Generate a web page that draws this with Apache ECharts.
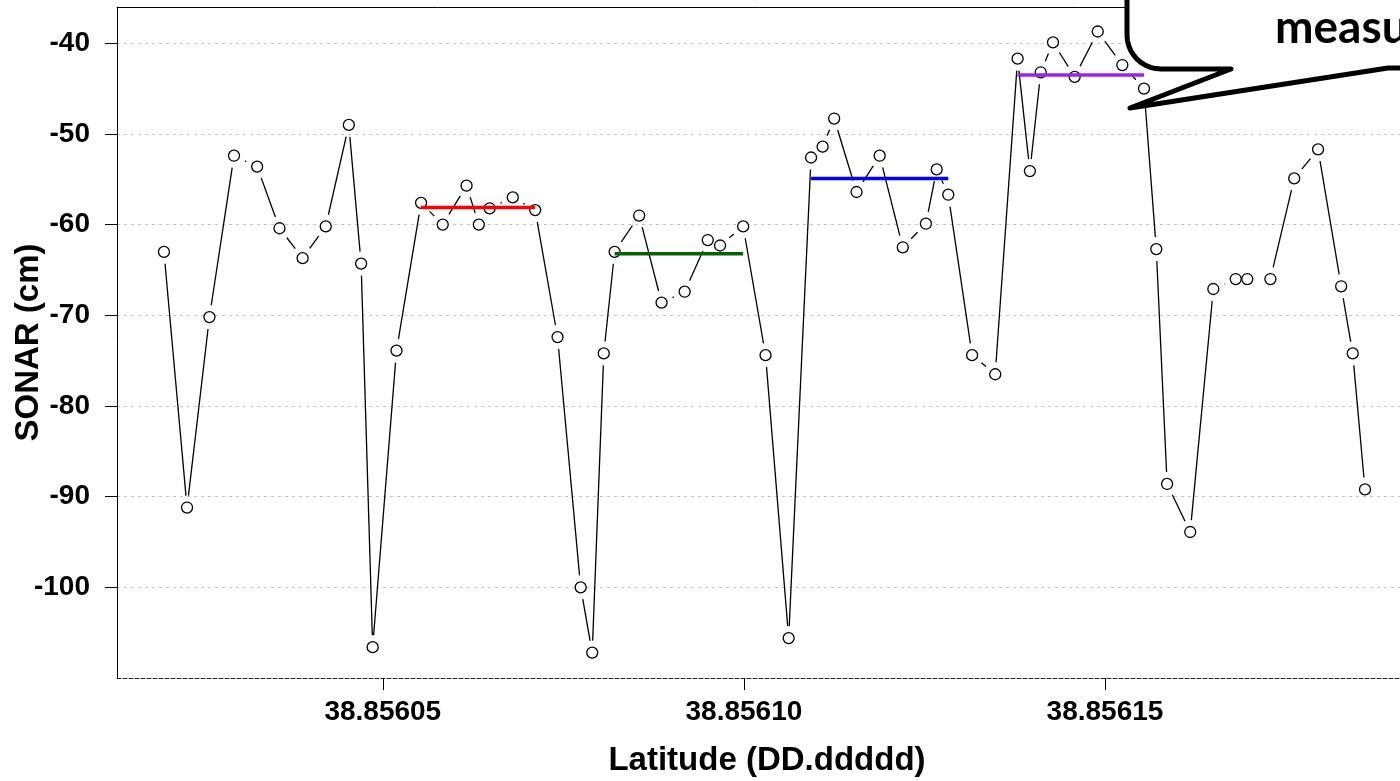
<!DOCTYPE html>
<html>
<head>
<meta charset="utf-8">
<script src="https://cdn.jsdelivr.net/npm/echarts@6.0.0/dist/echarts.min.js"></script>
<style>
html,body{margin:0;padding:0;background:#fff;}
#chart{width:1400px;height:781px;}
</style>
</head>
<body>
<div id="chart"></div>
<script>
// Latitude (DD.ddddd) of each sonar reading
const latitude = [
  38.8560197, 38.8560229, 38.8560260, 38.8560294, 38.8560326, 38.8560357, 38.8560389, 38.8560421,
  38.8560453, 38.8560470, 38.8560486, 38.8560519, 38.8560553, 38.8560583, 38.8560616, 38.8560633,
  38.8560648, 38.8560680, 38.8560711, 38.8560742, 38.8560774, 38.8560790, 38.8560806, 38.8560821,
  38.8560855, 38.8560886, 38.8560918, 38.8560950, 38.8560967, 38.8560999, 38.8561030, 38.8561062,
  38.8561093, 38.8561109, 38.8561125, 38.8561156, 38.8561188, 38.8561220, 38.8561252, 38.8561267,
  38.8561283, 38.8561316, 38.8561348, 38.8561379, 38.8561396, 38.8561411, 38.8561428, 38.8561458,
  38.8561490, 38.8561524, 38.8561554, 38.8561571, 38.8561586, 38.8561618, 38.8561650, 38.8561681,
  38.8561697, 38.8561729, 38.8561762, 38.8561795, 38.8561827, 38.8561843, 38.8561860
];
// SONAR depth (cm)
const sonar = [
  -63.0, -91.2, -70.2, -52.4, -53.6, -60.4, -63.7, -60.2,
  -49.0, -64.3, -106.6, -73.9, -57.6, -60.0, -55.7, -60.0,
  -58.2, -57.0, -58.4, -72.4, -100.0, -107.2, -74.2, -63.0,
  -59.0, -68.6, -67.4, -61.7, -62.3, -60.2, -74.4, -105.6,
  -52.6, -51.4, -48.3, -56.4, -52.4, -62.5, -59.9, -53.9,
  -56.7, -74.4, -76.5, -41.7, -54.1, -43.2, -39.9, -43.7,
  -38.7, -42.4, -45.0, -62.7, -88.6, -93.9, -67.1, -66.0,
  -66.0, -66.0, -54.9, -51.7, -66.8, -74.2, -89.2
];
// Mean segments
const meanStart = [38.8560553, 38.8560821, 38.8561093, 38.8561379];
const meanEnd   = [38.8560711, 38.8560999, 38.8561283, 38.8561554];
const meanValue = [-58.1, -63.2, -54.9, -43.5];
const meanColor = ['#ff0000', '#006400', '#0000ff', '#a020f0'];
// Tick labels
const xTicks = [38.85605, 38.85610, 38.85615];
const yTicks = [-100, -90, -80, -70, -60, -50, -40];
const calloutText = 'measurement';

const FONT = "'Liberation Sans', Arial, sans-serif";
const GAP = 12;

const segData = [];
for (let i = 0; i < latitude.length - 1; i++) {
  segData.push([latitude[i], sonar[i], latitude[i + 1], sonar[i + 1]]);
}

const series = [
  {
    type: 'custom',
    data: segData,
    encode: { x: [0, 2], y: [1, 3] },
    z: 2,
    renderItem: function (params, api) {
      const a = api.coord([api.value(0), api.value(1)]);
      const b = api.coord([api.value(2), api.value(3)]);
      const dx = b[0] - a[0], dy = b[1] - a[1];
      const L = Math.hypot(dx, dy);
      if (L <= 2 * GAP) return { type: 'group', children: [] };
      const ux = dx / L, uy = dy / L;
      return {
        type: 'line',
        shape: { x1: a[0] + ux * GAP, y1: a[1] + uy * GAP, x2: b[0] - ux * GAP, y2: b[1] - uy * GAP },
        style: { stroke: '#000', lineWidth: 1.3 }
      };
    }
  },
  {
    type: 'scatter',
    data: latitude.map((x, i) => [x, sonar[i]]),
    symbol: 'circle',
    symbolSize: 11,
    z: 3,
    itemStyle: { color: '#fff', borderColor: '#000', borderWidth: 1.3, opacity: 1 }
  }
];
for (let k = 0; k < meanValue.length; k++) {
  series.push({
    type: 'line',
    data: [[meanStart[k], meanValue[k]], [meanEnd[k], meanValue[k]]],
    symbol: 'none',
    z: 4,
    lineStyle: { color: meanColor[k], width: 3.5 }
  });
}

// Callout bubble outline (annotation decoration)
const bubble = [[1127, -30], [1127, 35]];
for (let t = 1; t <= 10; t++) {
  const ang = Math.PI - (Math.PI / 2) * (t / 10);
  bubble.push([1161 + 34 * Math.cos(ang), 35 + 34 * Math.sin(ang)]);
}
bubble.push([1231, 69], [1130, 108], [1388, 68], [1430, 68], [1430, -30]);

const chart = echarts.init(document.getElementById('chart'), null, { renderer: 'canvas' });
chart.setOption({
  animation: false,
  backgroundColor: '#fff',
  grid: { left: 117, top: 7, width: 1300, height: 671, containLabel: false, outerBoundsMode: 'none' },
  xAxis: [
    {
      type: 'value',
      min: 38.8560132,
      max: 38.8561932,
      name: 'Latitude (DD.ddddd)',
      nameLocation: 'middle',
      nameGap: 66,
      nameTextStyle: { fontFamily: FONT, fontWeight: 'bold', fontSize: 33, color: '#000' },
      axisLine: { show: true, onZero: false, lineStyle: { color: '#222', width: 1, type: [4, 2] } },
      axisTick: { show: true, length: 12, lineStyle: { color: '#000', width: 1 }, customValues: xTicks },
      axisLabel: {
        show: true, margin: 20, customValues: xTicks,
        formatter: v => Number(v).toFixed(5),
        fontFamily: FONT, fontWeight: 'bold', fontSize: 28, color: '#000'
      },
      splitLine: { show: false }
    },
    {
      type: 'value',
      position: 'top',
      min: 38.8560132,
      max: 38.8561932,
      axisLine: { show: true, onZero: false, lineStyle: { color: '#000', width: 1 } },
      axisTick: { show: false },
      axisLabel: { show: false },
      splitLine: { show: false }
    }
  ],
  yAxis: {
    type: 'value',
    min: -110,
    max: -36,
    interval: 10,
    name: 'SONAR (cm)',
    nameLocation: 'middle',
    nameGap: 72,
    nameRotate: 90,
    nameMoveOverlap: false,
    nameTextStyle: { fontFamily: FONT, fontWeight: 'bold', fontSize: 33, color: '#000' },
    axisLine: { show: true, onZero: false, lineStyle: { color: '#000', width: 1 } },
    axisTick: { show: true, length: 12, lineStyle: { color: '#000', width: 1 }, customValues: yTicks },
    axisLabel: {
      show: true, margin: 27, customValues: yTicks,
      fontFamily: FONT, fontWeight: 'bold', fontSize: 28, color: '#000'
    },
    splitLine: { show: true, lineStyle: { color: '#c4c4c4', width: 1, type: [3, 4] } }
  },
  series: series,
  graphic: [
    {
      type: 'polygon',
      z: 100,
      shape: { points: bubble },
      style: { fill: '#fff', stroke: '#000', lineWidth: 5, lineJoin: 'round' }
    },
    {
      type: 'text',
      z: 101,
      style: {
        text: calloutText,
        x: 1275,
        y: 28,
        verticalAlign: 'middle',
        font: "bold 46px Lato, 'Open Sans', sans-serif",
        fill: '#000'
      }
    }
  ]
});
</script>
</body>
</html>
